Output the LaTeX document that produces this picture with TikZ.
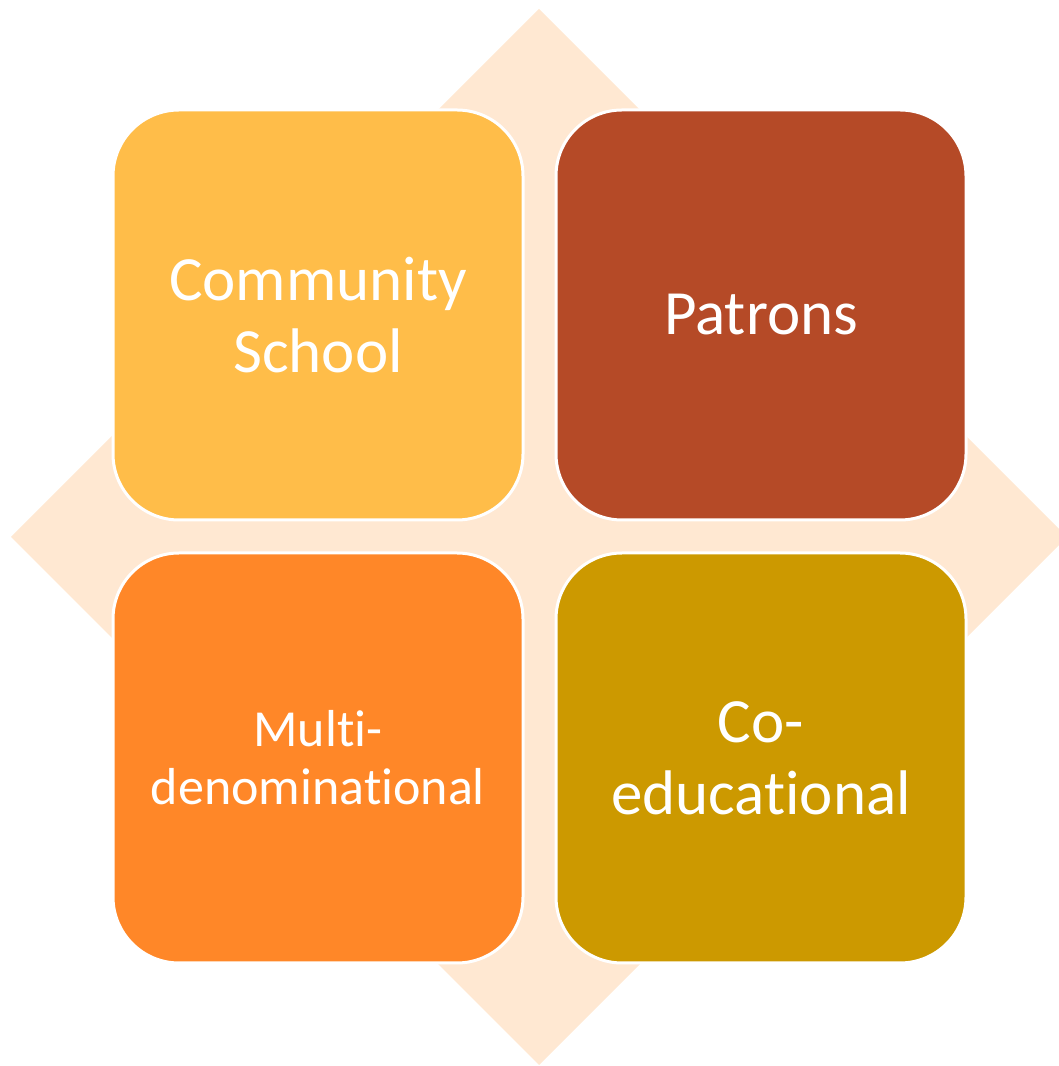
\documentclass[tikz,border=0pt]{standalone}
\usepackage{fontspec}
\setmainfont[Ligatures={NoCommon}]{Carlito}
\definecolor{diamondc}{HTML}{FFE8D2}
\definecolor{boxa}{HTML}{FFBD49}
\definecolor{boxb}{HTML}{B54A27}
\definecolor{boxc}{HTML}{FF8728}
\definecolor{boxd}{HTML}{CC9900}
\tikzset{
  tile/.style={draw=white, line width=3pt, rounded corners=66pt,
    minimum width=410pt, minimum height=410pt, inner sep=0pt,
    text=white, align=center, font=\fontsize{63}{72}\selectfont},
  smalltile/.style={tile, font=\fontsize{52}{58}\selectfont}
}
\begin{document}
\begin{tikzpicture}[x=1pt,y=1pt]
\useasboundingbox (0,0) rectangle (1059,1066);
\begin{scope}
\clip (0,0) rectangle (1059,1066);
\fill[diamondc] (539,1057) -- (1067,529) -- (539,1) -- (11,529) -- cycle;
\end{scope}
\node[tile, fill=boxa] (cs) at (318,751) {Community\\School};
\node[tile, fill=boxb] (pa) at (761,751) {Patrons};
\node[smalltile, fill=boxc] (md) at (318,308) {Multi-\\denominational};
\node[tile, fill=boxd] (ce) at (761,308) {Co-\\educational};
\end{tikzpicture}
\end{document}
